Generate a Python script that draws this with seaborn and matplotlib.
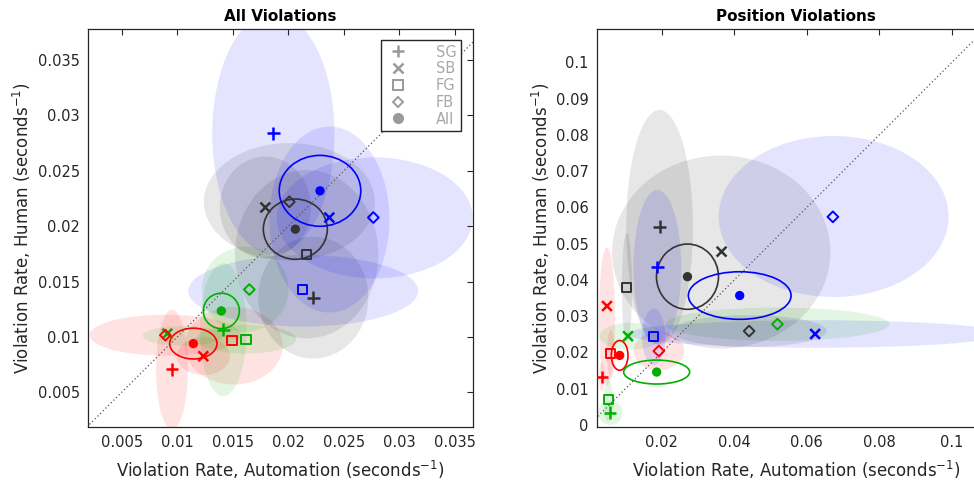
import numpy as np
import pandas as pd
import matplotlib
matplotlib.use("Agg")
import matplotlib.pyplot as plt
from matplotlib.patches import Ellipse
from matplotlib.lines import Line2D
from matplotlib.ticker import FixedLocator, FuncFormatter
import seaborn as sns

# ---- data -----------------------------------------------------------------
# Row order: each condition (red, green, black, blue) with the five scenario
# types SG, SB, FG, FB and All.
CONDITIONS = ["red"] * 5 + ["green"] * 5 + ["black"] * 5 + ["blue"] * 5
SCENARIOS = ["SG", "SB", "FG", "FB", "All"] * 4

# All violations: mean rates (automation x, human y)
ALL_X = [0.00953, 0.01235, 0.01493, 0.00893, 0.01145,
         0.01415, 0.00911, 0.01619, 0.01649, 0.01397,
         0.02225, 0.01793, 0.02165, 0.02009, 0.02063,
         0.01865, 0.02369, 0.02129, 0.02765, 0.02285]
ALL_Y = [0.00707, 0.00826, 0.00966, 0.01016, 0.00940,
         0.01066, 0.01030, 0.00976, 0.01428, 0.01235,
         0.01355, 0.02169, 0.01747, 0.02220, 0.01973,
         0.02837, 0.02078, 0.01428, 0.02078, 0.02319]
# spread ellipses: centre and half-widths
ALL_EX = [0.00953, 0.01235, 0.01509, 0.00893, 0.01145,
          0.01415, 0.01050, 0.01620, 0.01612, 0.01397,
          0.02225, 0.01793, 0.02165, 0.02009, 0.02063,
          0.01865, 0.02370, 0.02134, 0.02777, 0.02285]
ALL_EY = [0.00707, 0.00826, 0.00920, 0.01016, 0.00940,
          0.01066, 0.01010, 0.00980, 0.01430, 0.01235,
          0.01355, 0.02169, 0.01747, 0.02220, 0.01973,
          0.02837, 0.02060, 0.01416, 0.02075, 0.02319]
ALL_RX = [0.00143, 0.00240, 0.00440, 0.00680, 0.00213,
          0.00210, 0.00360, 0.00450, 0.00390, 0.00162,
          0.00495, 0.00410, 0.00645, 0.00770, 0.00288,
          0.00550, 0.00540, 0.01035, 0.00882, 0.00367]
ALL_RY = [0.00540, 0.00170, 0.00350, 0.00185, 0.00139,
          0.00600, 0.00090, 0.00130, 0.00384, 0.00160,
          0.00550, 0.00460, 0.00760, 0.00530, 0.00272,
          0.01090, 0.00840, 0.00323, 0.00546, 0.00320]

# Position violations
POS_X = [0.0035, 0.0049, 0.0060, 0.0192, 0.0084,
         0.0058, 0.0107, 0.0052, 0.0519, 0.0186,
         0.0194, 0.0365, 0.0104, 0.0441, 0.0271,
         0.0188, 0.0623, 0.0178, 0.0672, 0.0415]
POS_Y = [0.0133, 0.0328, 0.0196, 0.0204, 0.0192,
         0.0034, 0.0245, 0.0069, 0.0278, 0.0146,
         0.0547, 0.0478, 0.0380, 0.0259, 0.0409,
         0.0435, 0.0251, 0.0243, 0.0574, 0.0357]
POS_EX = [0.0035, 0.0049, 0.0060, 0.0192, 0.0084,
          0.0058, 0.0115, 0.0052, 0.0519, 0.0186,
          0.0194, 0.0364, 0.0104, 0.0441, 0.0271,
          0.0188, 0.0623, 0.0178, 0.0674, 0.0415]
POS_EY = [0.0133, 0.0300, 0.0196, 0.0204, 0.0192,
          0.0034, 0.0245, 0.0069, 0.0278, 0.0146,
          0.0545, 0.0477, 0.0380, 0.0259, 0.0409,
          0.0435, 0.0251, 0.0243, 0.0575, 0.0357]
POS_RX = [0.0008, 0.0022, 0.0011, 0.0070, 0.0023,
          0.0034, 0.0087, 0.0012, 0.0309, 0.0091,
          0.0092, 0.0301, 0.0014, 0.0214, 0.00855,
          0.0066, 0.0520, 0.0032, 0.0317, 0.01416]
POS_RY = [0.0040, 0.0190, 0.0065, 0.0053, 0.0041,
          0.0034, 0.0037, 0.0060, 0.0046, 0.0033,
          0.0324, 0.0266, 0.0150, 0.0044, 0.0090,
          0.0213, 0.0038, 0.0078, 0.0222, 0.00656]

# axis ranges and ticks
ALL_XLIM = (0.00197, 0.03662)
ALL_YLIM = (0.00187, 0.03780)
ALL_TICKS = [0.005, 0.01, 0.015, 0.02, 0.025, 0.03, 0.035]
POS_XLIM = (0.00215, 0.11190)
POS_YLIM = (-0.00055, 0.10920)
POS_XTICKS = [0.02, 0.04, 0.06, 0.08, 0.1]
POS_YTICKS = [0.0, 0.01, 0.02, 0.03, 0.04, 0.05, 0.06, 0.07, 0.08, 0.09, 0.1]

# ---- styling --------------------------------------------------------------
sns.set_style("white")
plt.rcParams["font.family"] = ["DejaVu Sans"]
plt.rcParams["mathtext.fontset"] = "dejavusans"

INK = "#262626"
MARK_COLORS = {"red": "#ff0000", "green": "#00b000", "black": "#333333", "blue": "#0000ff"}
FILL_COLORS = {"red": ((1, 0, 0), 0.11), "green": ((0, 0.7, 0), 0.11),
               "black": ((0, 0, 0), 0.095), "blue": ((0, 0, 1), 0.105)}
MARKER_STYLE = {
    "SG": dict(marker="+", s=80, linewidth=1.8),
    "SB": dict(marker="x", s=50, linewidth=1.8),
    "FG": dict(marker="s", s=42, linewidth=1.4),
    "FB": dict(marker="D", s=30, linewidth=1.4),
    "All": dict(marker="o", s=45, linewidth=0),
}
HOLLOW = {"FG", "FB"}


def draw_panel(ax, xs, ys, exs, eys, rxs, rys, xlim, ylim, xticks, yticks, title):
    df = pd.DataFrame({"x": xs, "y": ys, "ex": exs, "ey": eys, "rx": rxs, "ry": rys,
                       "cond": CONDITIONS, "scen": SCENARIOS})

    # shaded spread ellipses for each scenario, outline for the pooled mean
    for _, r in df.iterrows():
        if r.scen == "All":
            e = Ellipse((r.ex, r.ey), 2 * r.rx, 2 * r.ry, facecolor="none",
                        edgecolor=MARK_COLORS[r.cond], linewidth=1.2, zorder=3)
        else:
            col, a = FILL_COLORS[r.cond]
            e = Ellipse((r.ex, r.ey), 2 * r.rx, 2 * r.ry, facecolor=col, alpha=a,
                        edgecolor="none", zorder=1)
        ax.add_patch(e)

    # identity line
    lo = min(xlim[0], ylim[0])
    hi = max(xlim[1], ylim[1])
    ax.plot([lo, hi], [lo, hi], linestyle=(0, (1, 2)), color="#555555",
            linewidth=0.9, zorder=2)

    # mean markers, one layer per scenario type
    for scen in ["SG", "SB", "FG", "FB", "All"]:
        sub = df[df.scen == scen]
        st = MARKER_STYLE[scen]
        sns.scatterplot(data=sub, x="x", y="y", hue="cond", palette=MARK_COLORS,
                        marker=st["marker"], s=st["s"], linewidth=st["linewidth"],
                        edgecolor=None, legend=False, ax=ax, zorder=4)
        pts = ax.collections[-1]
        if scen in HOLLOW:
            fc = pts.get_facecolors()
            pts.set_edgecolors(fc)
            pts.set_facecolors("none")
            pts.set_linewidths(st["linewidth"])

    ax.set_xlim(*xlim)
    ax.set_ylim(*ylim)
    ax.xaxis.set_major_locator(FixedLocator(xticks))
    ax.yaxis.set_major_locator(FixedLocator(yticks))
    fmt = FuncFormatter(lambda v, p: f"{v:g}")
    ax.xaxis.set_major_formatter(fmt)
    ax.yaxis.set_major_formatter(fmt)
    ax.tick_params(direction="in", top=True, right=True, length=4, width=0.8,
                   color=INK, labelcolor=INK, labelsize=10.5, pad=6)
    for sp in ax.spines.values():
        sp.set_visible(True)
        sp.set_color(INK)
        sp.set_linewidth(0.9)
    ax.set_xlabel(r"Violation Rate, Automation (seconds$^{\mathsf{-1}}$)",
                  fontsize=12, color=INK, labelpad=6)
    ax.set_ylabel(r"Violation Rate, Human (seconds$^{\mathsf{-1}}$)",
                  fontsize=12, color=INK, labelpad=3)
    ax.set_title(title, fontsize=11, fontweight="bold", color="black", pad=6)


fig = plt.figure(figsize=(9.74, 4.82), dpi=100)
ax1 = fig.add_axes([88 / 974, 55 / 482, 385 / 974, 398 / 482])
ax2 = fig.add_axes([597 / 974, 55 / 482, 398 / 974, 398 / 482])

draw_panel(ax1, ALL_X, ALL_Y, ALL_EX, ALL_EY, ALL_RX, ALL_RY,
           ALL_XLIM, ALL_YLIM, ALL_TICKS, ALL_TICKS, "All Violations")
draw_panel(ax2, POS_X, POS_Y, POS_EX, POS_EY, POS_RX, POS_RY,
           POS_XLIM, POS_YLIM, POS_XTICKS, POS_YTICKS, "Position Violations")

# scenario legend in grey
LEG_GREY = "#9a9a9a"
handles = [
    Line2D([], [], linestyle="none", marker="+", markersize=9, markeredgewidth=1.8, color=LEG_GREY),
    Line2D([], [], linestyle="none", marker="x", markersize=6.5, markeredgewidth=1.8, color=LEG_GREY),
    Line2D([], [], linestyle="none", marker="s", markersize=6.5, markeredgewidth=1.4,
           markerfacecolor="none", color=LEG_GREY),
    Line2D([], [], linestyle="none", marker="D", markersize=5.5, markeredgewidth=1.4,
           markerfacecolor="none", color=LEG_GREY),
    Line2D([], [], linestyle="none", marker="o", markersize=7, color=LEG_GREY),
]
leg = ax1.legend(handles, ["SG", "SB", "FG", "FB", "All"], loc="upper right",
                 bbox_to_anchor=(0.969, 0.972), borderaxespad=0, fontsize=10.5,
                 frameon=True, fancybox=False, framealpha=1, edgecolor=INK,
                 handletextpad=1.7, labelspacing=0.12, borderpad=0.3,
                 handlelength=1.8)
leg.get_frame().set_linewidth(1.0)
for t in leg.get_texts():
    t.set_color("#a8a8a8")
leg.set_zorder(6)

fig.savefig("out.png", dpi=100)
